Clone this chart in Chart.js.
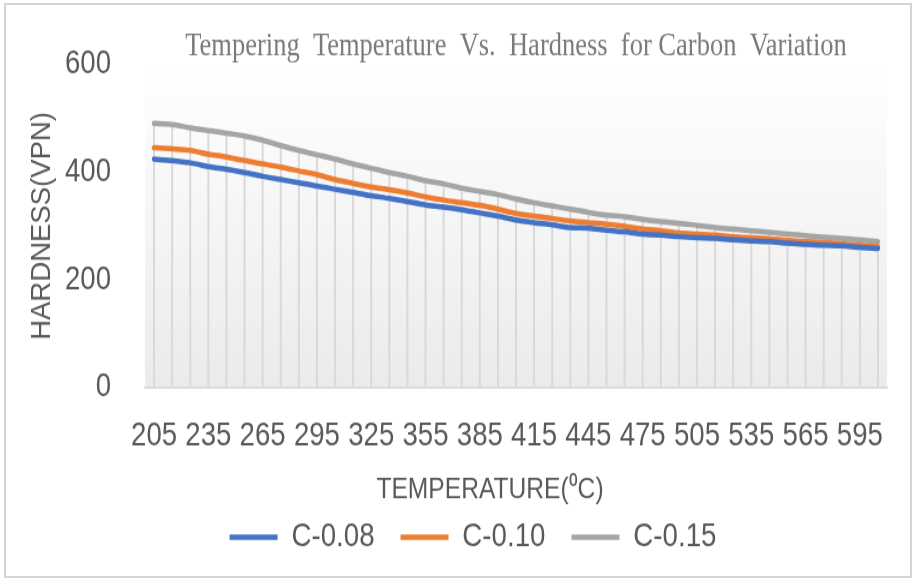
<!DOCTYPE html>
<html>
<head>
<meta charset="utf-8">
<title>Tempering Temperature Vs. Hardness</title>
<script src="https://cdn.jsdelivr.net/npm/chart.js@4.4.0/dist/chart.umd.min.js"></script>
<style>
  html, body { margin: 0; padding: 0; background: #fff; }
  #wrap { position: relative; width: 915px; height: 581px; }
  #frame { position: absolute; left: 4px; top: 3px; right: 3px; bottom: 3px; border: 2px solid #d6d6d6; pointer-events: none; }
</style>
</head>
<body>
<div id="wrap">
  <!-- the source picture is a vertically stretched Excel chart, so the canvas is drawn
       at 915x484 and shown at 915x581 -->
  <canvas id="hardnessChart" width="915" height="484" style="width:915px;height:581px;display:block"></canvas>
  <div id="frame"></div>
</div>
<script>
// tempering temperatures, every 10 degC; only every third one gets a label
const temperatures = [205, 215, 225, 235, 245, 255, 265, 275, 285, 295,
    305, 315, 325, 335, 345, 355, 365, 375, 385, 395,
    405, 415, 425, 435, 445, 455, 465, 475, 485, 495,
    505, 515, 525, 535, 545, 555, 565, 575, 585, 595, 605];
const labelEvery = 3;

const seriesNames = ['C-0.08', 'C-0.10', 'C-0.15'];
const seriesColors = ['#4472c4', '#ed7d31', '#a5a5a5'];

const hardnessC008 = [424, 421, 417, 410, 405, 399, 392, 386, 380, 374,
    368, 362, 356, 351, 345, 339, 335, 330, 324, 318,
    311, 306, 302, 297, 296, 292, 289, 285, 283, 280,
    278, 277, 274, 272, 271, 268, 266, 264, 263, 260, 258];
const hardnessC010 = [445, 443, 440, 433, 428, 421, 415, 409, 402, 395,
    386, 379, 372, 367, 361, 354, 348, 343, 338, 331,
    323, 318, 314, 309, 306, 303, 299, 294, 291, 287,
    285, 283, 280, 278, 276, 273, 271, 269, 267, 264, 262];
const hardnessC015 = [490, 488, 482, 477, 472, 467, 459, 449, 440, 432,
    424, 415, 407, 399, 392, 384, 378, 370, 364, 358,
    350, 343, 337, 331, 325, 320, 317, 312, 308, 305,
    301, 297, 294, 291, 288, 285, 282, 279, 277, 274, 271];

const yMin = 0;
const yMax = 600;
const yStep = 200;

const stretch = 581 / 484;
const sans = "'Liberation Sans', Arial, sans-serif";
const textColor = '#595959';

const plotBackground = {
    id: 'plotBackground',
    beforeDraw(chart) {
        const { ctx, chartArea: a } = chart;
        const g = ctx.createLinearGradient(0, a.top, 0, a.bottom);
        g.addColorStop(0, '#ffffff');
        g.addColorStop(1, '#ebebeb');
        ctx.save();
        ctx.fillStyle = g;
        ctx.fillRect(a.left, a.top, a.right - a.left, a.bottom - a.top);
        ctx.restore();
    }
};

// Excel style drop lines: from the highest series down to the axis
const dropLines = {
    id: 'dropLines',
    beforeDatasetsDraw(chart) {
        const { ctx, scales: { x, y } } = chart;
        const base = y.getPixelForValue(yMin);
        ctx.save();
        ctx.strokeStyle = '#d9d9d9';
        ctx.lineWidth = 2;
        ctx.beginPath();
        temperatures.forEach((t, i) => {
            const top = Math.max(...chart.data.datasets.map(ds => ds.data[i]));
            const px = x.getPixelForValue(i);
            ctx.moveTo(px, y.getPixelForValue(top));
            ctx.lineTo(px, base);
        });
        ctx.stroke();
        ctx.restore();
    }
};

const axisTitles = {
    id: 'axisTitles',
    afterDraw(chart) {
        const { ctx, chartArea: a } = chart;
        ctx.save();
        ctx.fillStyle = textColor;
        ctx.textAlign = 'center';
        ctx.textBaseline = 'middle';
        ctx.font = '24.6px ' + sans;
        ctx.fillText('TEMPERATURE(\u2070C)', (a.left + a.right) / 2 - 26, a.bottom + 85.4);
        // rotated title: undo the stretch so it keeps its own proportions
        ctx.font = '27.5px ' + sans;
        ctx.translate(42, (a.top + a.bottom) / 2);
        ctx.scale(1, 1 / stretch);
        ctx.rotate(-Math.PI / 2);
        ctx.fillText('HARDNESS(VPN)', 0, 0);
        ctx.restore();
    }
};

const seriesData = [hardnessC008, hardnessC010, hardnessC015];

new Chart(document.getElementById('hardnessChart'), {
    type: 'line',
    data: {
        labels: temperatures,
        datasets: seriesData.map((values, i) => ({
            label: seriesNames[i],
            data: values,
            borderColor: seriesColors[i],
            backgroundColor: seriesColors[i],
            borderWidth: 4.5,
            borderCapStyle: 'round',
            pointRadius: 0,
            tension: 0.3,
            fill: false
        }))
    },
    options: {
        responsive: false,
        animation: false,
        layout: { padding: { left: 59, right: 28, top: 0, bottom: 12.75 } },
        scales: {
            x: {
                offset: true,
                grid: { display: false, drawTicks: false },
                border: { display: true, color: '#d9d9d9', width: 1.7 },
                ticks: {
                    autoSkip: false,
                    maxRotation: 0,
                    padding: 23.8,
                    color: textColor,
                    font: { family: sans, size: 27.6 },
                    callback(value, index) {
                        return index % labelEvery === 0 ? this.getLabelForValue(value) : '';
                    }
                },
                afterFit(scale) { scale.height = 84.75; }
            },
            y: {
                min: yMin,
                max: yMax,
                grid: { display: false, drawTicks: false },
                border: { display: false },
                ticks: {
                    stepSize: yStep,
                    padding: 34,
                    color: textColor,
                    font: { family: sans, size: 27.6 }
                },
                afterFit(scale) { scale.width = 86; }
            }
        },
        plugins: {
            title: {
                display: true,
                fullSize: false,
                text: 'Tempering  Temperature  Vs.  Hardness  for Carbon  Variation',
                color: '#7a7a7a',
                font: { family: "'Liberation Serif', 'Times New Roman', serif", size: 26.5, weight: 'normal', lineHeight: 1 },
                padding: { top: 25.9, bottom: 1.1 }
            },
            legend: {
                position: 'bottom',
                labels: {
                    usePointStyle: true,
                    pointStyle: 'line',
                    pointStyleWidth: 48,
                    boxWidth: 48,
                    padding: 26,
                    color: textColor,
                    font: { family: sans, size: 27.7 }
                }
            },
            tooltip: { enabled: false }
        }
    },
    plugins: [plotBackground, dropLines, axisTitles]
});
</script>
</body>
</html>
